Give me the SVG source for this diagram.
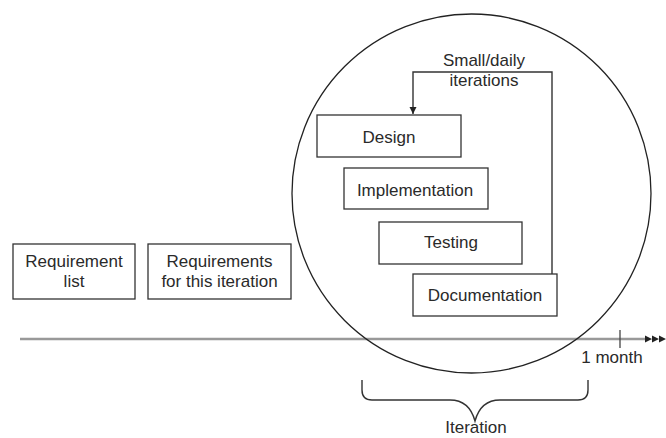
<svg xmlns="http://www.w3.org/2000/svg" width="666" height="438" viewBox="0 0 666 438">
<defs>
<style>
.box{fill:#fff;stroke:#333;stroke-width:1.3}
.t{font-family:"Liberation Sans",Arial,sans-serif;font-size:17px;fill:#2a2a2a;text-anchor:middle}
.ln{fill:none;stroke:#333;stroke-width:1.4}
</style>
<marker id="ah" viewBox="0 0 10 10" refX="10" refY="5" markerWidth="7" markerHeight="9" markerUnits="userSpaceOnUse" orient="auto"><path d="M0,0 L10,5 L0,10 Z" fill="#222"/></marker>
</defs>
<rect width="666" height="438" fill="#fff"/>
<g id="connectors">
<line x1="20" y1="339" x2="646" y2="339" stroke="#999" stroke-width="2.4"/>
<line x1="620" y1="330" x2="620" y2="348" stroke="#444" stroke-width="1.3"/>
<path d="M645,335.5 L652,339 L645,342.5 Z M652,335.5 L659,339 L652,342.5 Z M659,335.5 L666,339 L659,342.5 Z" fill="#222"/>
<circle cx="471.5" cy="193.5" r="179.5" fill="none" stroke="#222" stroke-width="1.3"/>
<path class="ln" d="M552,274 L552,72 L413,72 L413,114" marker-end="url(#ah)"/>
<path class="ln" d="M362,380 L362,390 Q362,400 372,400 L450,400 C465,400 472,410 475,421 C478,410 485,400 500,400 L578,400 Q588,400 588,390 L588,380"/>
</g>
<g id="label-small">
<text class="t" x="484" y="66">Small/daily</text>
<text class="t" x="484" y="86">iterations</text>
</g>
<g id="req-list">
<rect class="box" x="13" y="244" width="122" height="55"/>
<text class="t" x="74" y="267">Requirement</text>
<text class="t" x="74" y="287">list</text>
</g>
<g id="req-iter">
<rect class="box" x="148" y="244" width="143" height="55"/>
<text class="t" x="219.5" y="267">Requirements</text>
<text class="t" x="219.5" y="287">for this iteration</text>
</g>
<g id="design">
<rect class="box" x="317" y="115" width="144" height="42"/>
<text class="t" x="389" y="142.5">Design</text>
</g>
<g id="implementation">
<rect class="box" x="344" y="168" width="144" height="41"/>
<text class="t" x="415" y="196">Implementation</text>
</g>
<g id="testing">
<rect class="box" x="379" y="222" width="143" height="42"/>
<text class="t" x="451" y="248">Testing</text>
</g>
<g id="documentation">
<rect class="box" x="413" y="274" width="144" height="42"/>
<text class="t" x="485" y="301">Documentation</text>
</g>
<g id="label-month">
<text class="t" x="612" y="363">1 month</text>
</g>
<g id="label-iteration">
<text class="t" x="476" y="433">Iteration</text>
</g>
</svg>
